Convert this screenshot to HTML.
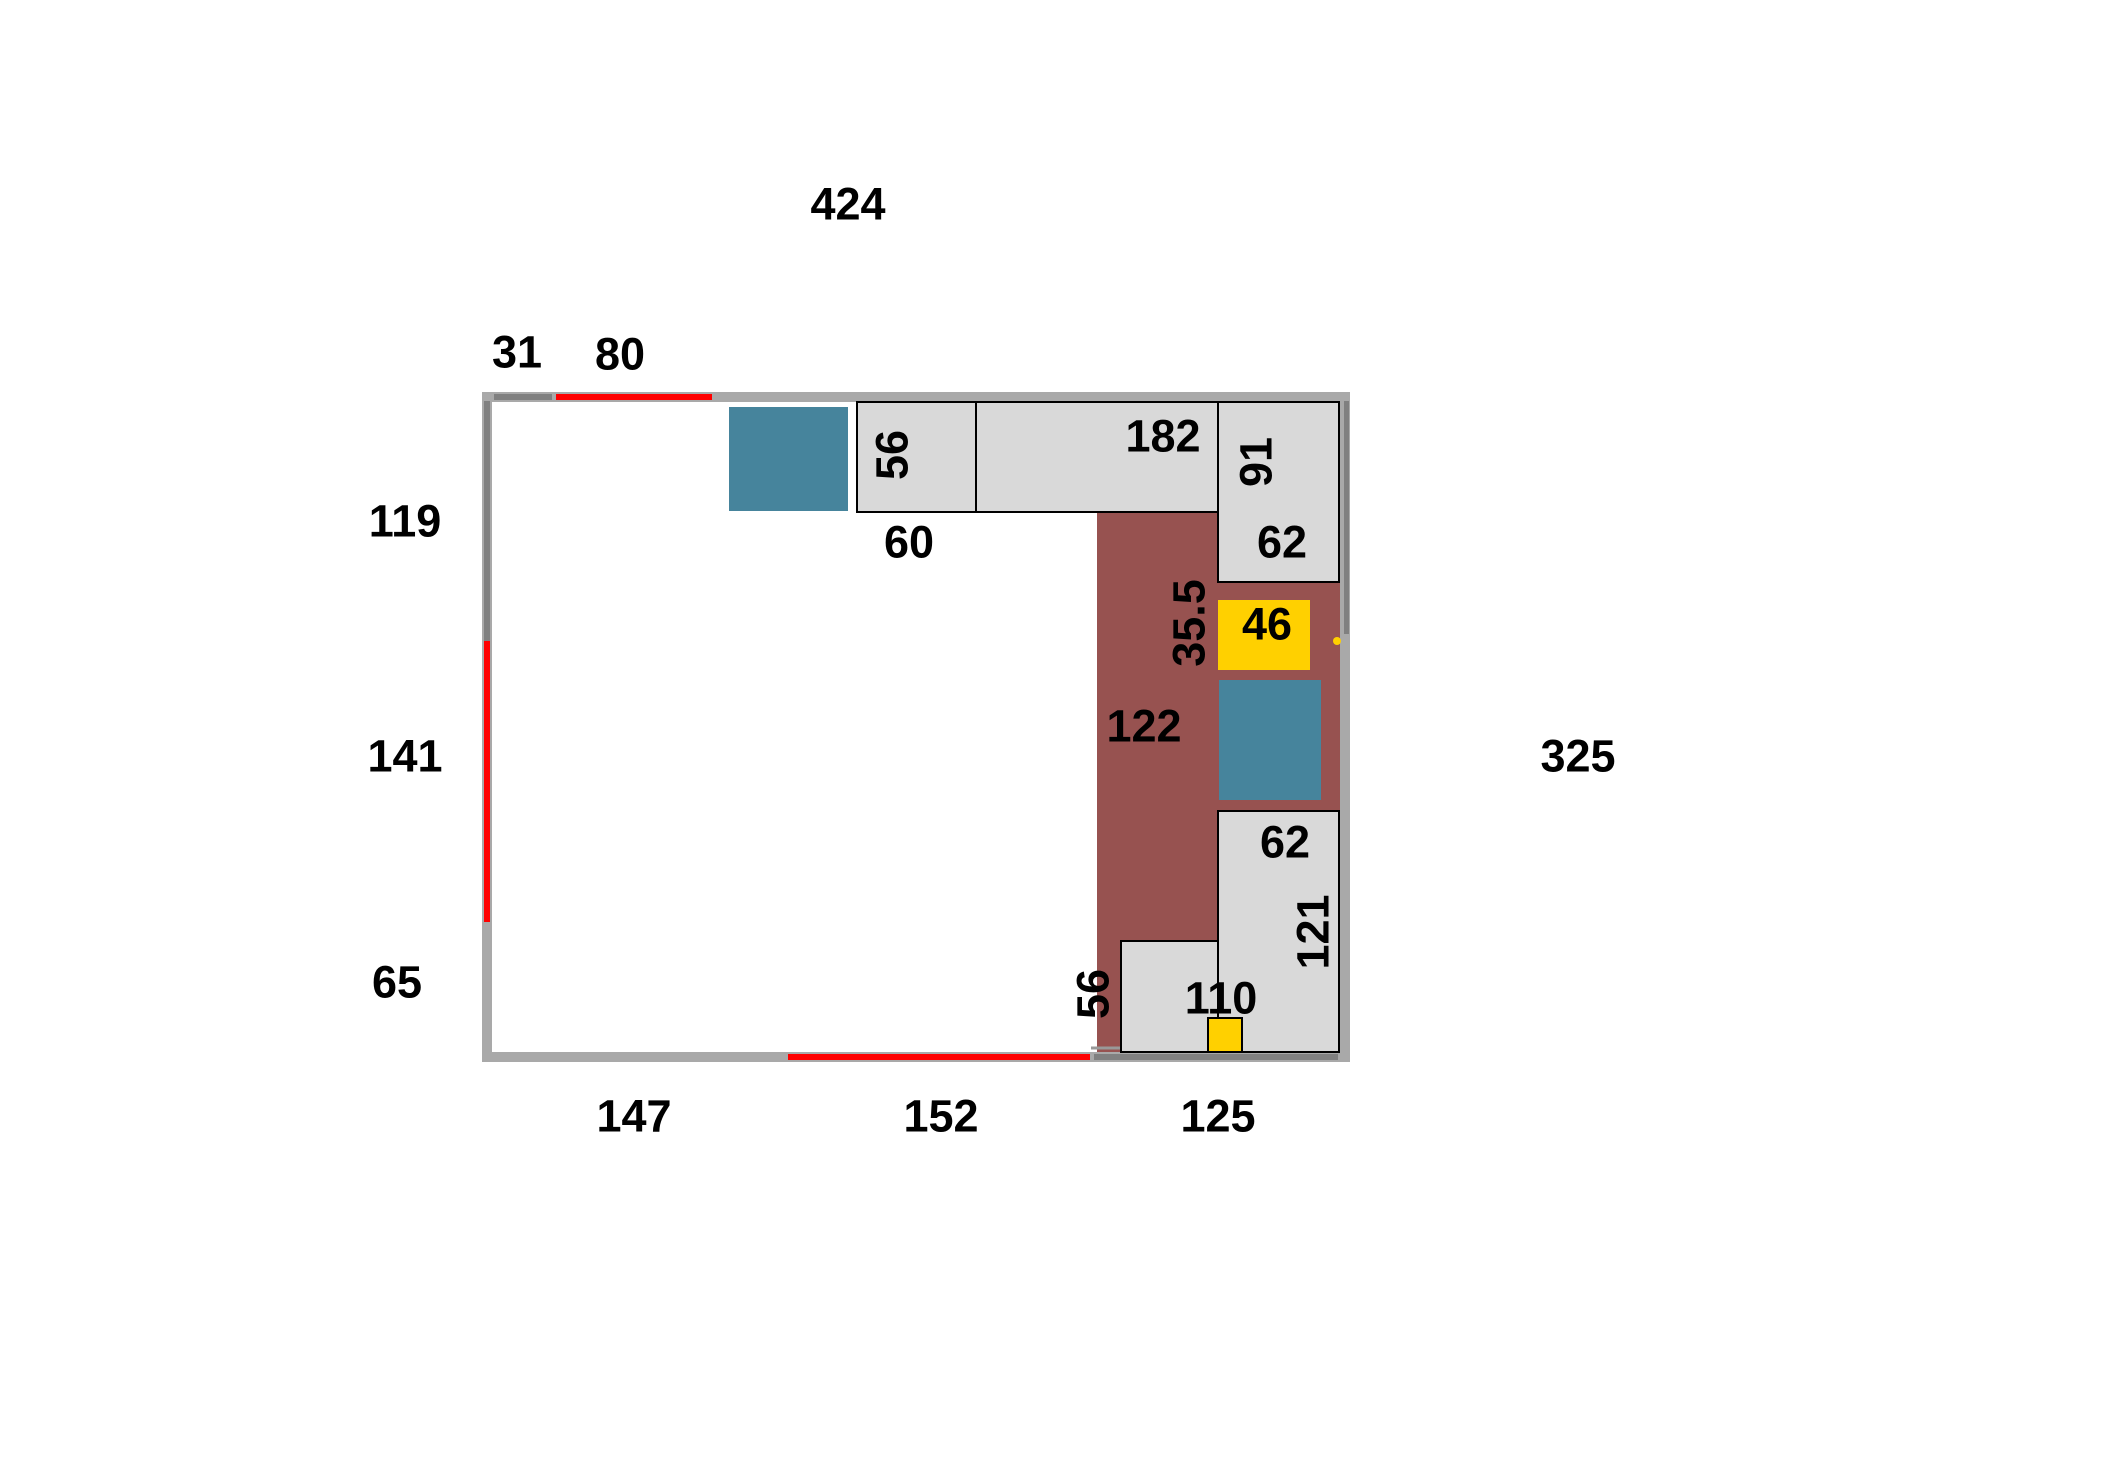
<!DOCTYPE html>
<html><head><meta charset="utf-8"><style>
html,body{margin:0;padding:0;background:#fff;}
svg{display:block}
text{font-family:"Liberation Sans",sans-serif;font-weight:bold;font-size:45px;fill:#000;text-anchor:middle;dominant-baseline:central}
</style></head><body>
<svg width="2114" height="1466" viewBox="0 0 2114 1466" xmlns="http://www.w3.org/2000/svg">
<rect x="0" y="0" width="2114" height="1466" fill="#fff"/>
<!-- brown floor -->
<rect x="1097" y="512" width="122" height="540" fill="#975250"/>
<rect x="1218" y="582" width="124" height="229" fill="#975250"/>
<!-- frame -->
<rect x="487" y="397" width="858" height="660" fill="none" stroke="#a9a9a9" stroke-width="10"/>
<!-- wall strips -->
<rect x="494" y="394" width="58" height="6" fill="#808080"/>
<rect x="556" y="394" width="156" height="6" fill="#ff0000"/>
<rect x="484" y="401" width="6" height="240" fill="#808080"/>
<rect x="484" y="641" width="6" height="281" fill="#ff0000"/>
<rect x="788" y="1054" width="302" height="6" fill="#ff0000"/>
<rect x="1094" y="1054" width="244" height="6" fill="#808080"/>
<rect x="1344" y="401" width="5" height="233" fill="#808080"/>
<line x1="1091" y1="1048" x2="1209" y2="1048" stroke="#999" stroke-width="3"/>
<!-- cabinets -->
<g fill="#d9d9d9" stroke="#000" stroke-width="2">
<rect x="857" y="402" width="119" height="110"/>
<rect x="976" y="402" width="242" height="110"/>
<rect x="1218" y="402" width="121" height="180"/>
<rect x="1218" y="811" width="121" height="241"/>
<rect x="1121" y="941" width="97" height="111"/>
</g>
<!-- teal -->
<rect x="729" y="407" width="119" height="104" fill="#46849c"/>
<rect x="1219" y="680" width="102" height="120" fill="#46849c"/>
<!-- yellow -->
<rect x="1218" y="600" width="92" height="70" fill="#ffd000"/>
<rect x="1208" y="1018" width="34" height="34" fill="#ffd000" stroke="#000" stroke-width="2"/>
<circle cx="1337" cy="641" r="4" fill="#ffd000"/>
<!-- labels -->
<text x="848" y="204">424</text>
<text x="517" y="352">31</text>
<text x="620" y="354">80</text>
<text x="405" y="521">119</text>
<text x="405" y="756">141</text>
<text x="397" y="982">65</text>
<text x="1578" y="756">325</text>
<text x="634" y="1116">147</text>
<text x="941" y="1116">152</text>
<text x="1218" y="1116">125</text>
<text x="1163" y="436">182</text>
<text x="1282" y="542">62</text>
<text x="909" y="542">60</text>
<text x="1267" y="624">46</text>
<text x="1144" y="726">122</text>
<text x="1285" y="842">62</text>
<text x="1221" y="998">110</text>
<text transform="translate(892,455) rotate(-90)">56</text>
<text transform="translate(1256,462) rotate(-90)">91</text>
<text transform="translate(1189,623) rotate(-90)">35.5</text>
<text transform="translate(1313,932) rotate(-90)">121</text>
<text transform="translate(1093,994) rotate(-90)">56</text>
</svg>
</body></html>
